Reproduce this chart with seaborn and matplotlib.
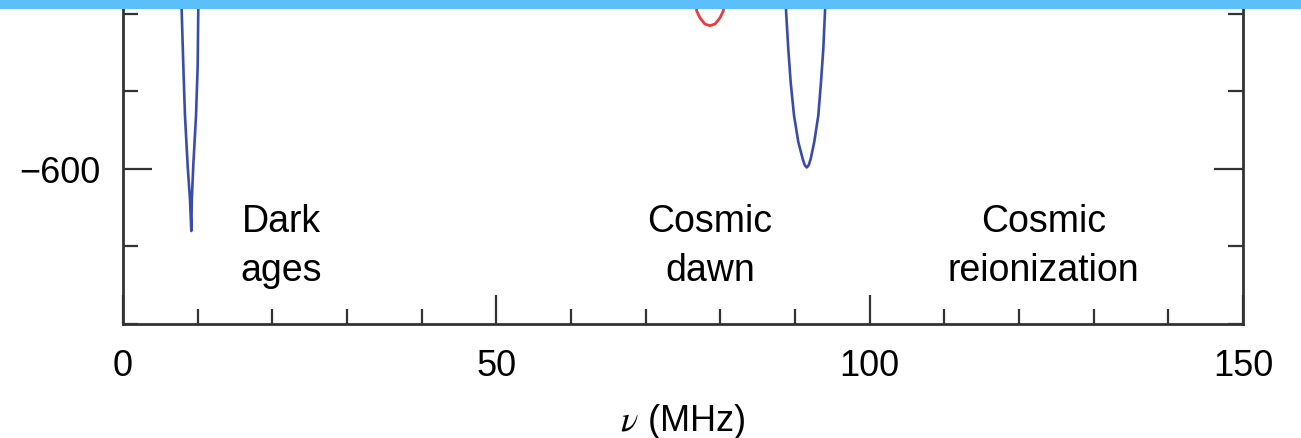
import matplotlib
matplotlib.use("Agg")
import matplotlib.pyplot as plt
import seaborn as sns
from matplotlib.ticker import MultipleLocator, FixedLocator
from matplotlib.patches import Rectangle

# ---- data ----
# Dark-ages absorption trough (blue)
dark_nu = [7.80, 7.86, 8.08, 8.30, 8.66, 8.97, 9.15, 9.22, 9.41, 9.78, 10.00, 10.08, 10.12]
dark_T = [-370, -396, -467, -531, -596, -639, -680, -639, -596, -531, -467, -396, -370]
# Cosmic-dawn trough (blue)
dawn_blue_nu = [88.70, 88.80, 89.10, 89.42, 89.87, 90.44, 91.03, 91.30, 91.57, 91.84, 92.10, 92.58, 93.12, 93.48, 93.79, 94.02, 94.10]
dawn_blue_T = [-370, -396, -445, -488, -531, -565, -587, -595, -598, -595, -587, -565, -531, -488, -445, -396, -370]
# Cosmic-dawn trough (red)
dawn_red_nu = [76.55, 76.83, 77.27, 77.94, 78.61, 79.28, 79.95, 80.40, 80.68]
dawn_red_T = [-370, -396, -405, -413, -415, -413, -405, -396, -370]

x_ticks_major = 50
x_ticks_minor = 10
y_ticks_labeled = [-600]
y_ticks_minor = 100

era_labels = ["Dark\nages", "Cosmic\ndawn", "Cosmic\nreionization"]
era_x = [21.2, 78.6, 123.3]
era_y = [-743, -743, -743]

# ---- style ----
sns.set_theme(style="ticks")
plt.rcParams["font.family"] = ["Liberation Sans", "DejaVu Sans"]
plt.rcParams["mathtext.fontset"] = "stix"

W, H = 1301, 439
fig = plt.figure(figsize=(W / 100, H / 100), dpi=100)
ax = fig.add_axes([123 / W, (H - 325) / H, 1120 / W, 387.5 / H])

blue = "#3b4ca8"
red = "#e83b3b"
sns.lineplot(x=dark_nu, y=dark_T, ax=ax, color=blue, lw=1.9, sort=False, estimator=None)
sns.lineplot(x=dawn_blue_nu, y=dawn_blue_T, ax=ax, color=blue, lw=1.9, sort=False, estimator=None)
sns.lineplot(x=dawn_red_nu, y=dawn_red_T, ax=ax, color=red, lw=2.0, sort=False, estimator=None)

ax.set_xlim(0, 150)
ax.set_ylim(-800, -300)
ax.xaxis.set_major_locator(MultipleLocator(x_ticks_major))
ax.xaxis.set_minor_locator(MultipleLocator(x_ticks_minor))
ax.yaxis.set_major_locator(FixedLocator(y_ticks_labeled))
ax.yaxis.set_minor_locator(MultipleLocator(y_ticks_minor))

spine_col = "#333333"
for s in ax.spines.values():
    s.set_linewidth(2.0)
    s.set_color(spine_col)
    s.set_visible(True)

ax.tick_params(which="both", direction="in", top=True, right=True, color=spine_col, width=1.6)
ax.tick_params(which="major", length=21, labelsize=26, labelcolor="#000000")
ax.tick_params(which="minor", length=10.5)
ax.tick_params(axis="x", which="major", pad=17)
ax.tick_params(axis="y", which="major", pad=16.5)

ax.set_xlabel(r"$\nu$ (MHz)", fontsize=26, color="#000000", labelpad=13)
ax.set_ylabel("")

for lab, xx, yy in zip(era_labels, era_x, era_y):
    ax.text(xx, yy, lab, fontsize=27, ha="center", va="baseline",
            multialignment="center", linespacing=1.45, color="#000000")

fig.add_artist(Rectangle((0, 1 - 10 / H), 1, 10 / H, transform=fig.transFigure,
                         color="#5bbffb", zorder=10, lw=0))

fig.savefig("out.png", dpi=100)
